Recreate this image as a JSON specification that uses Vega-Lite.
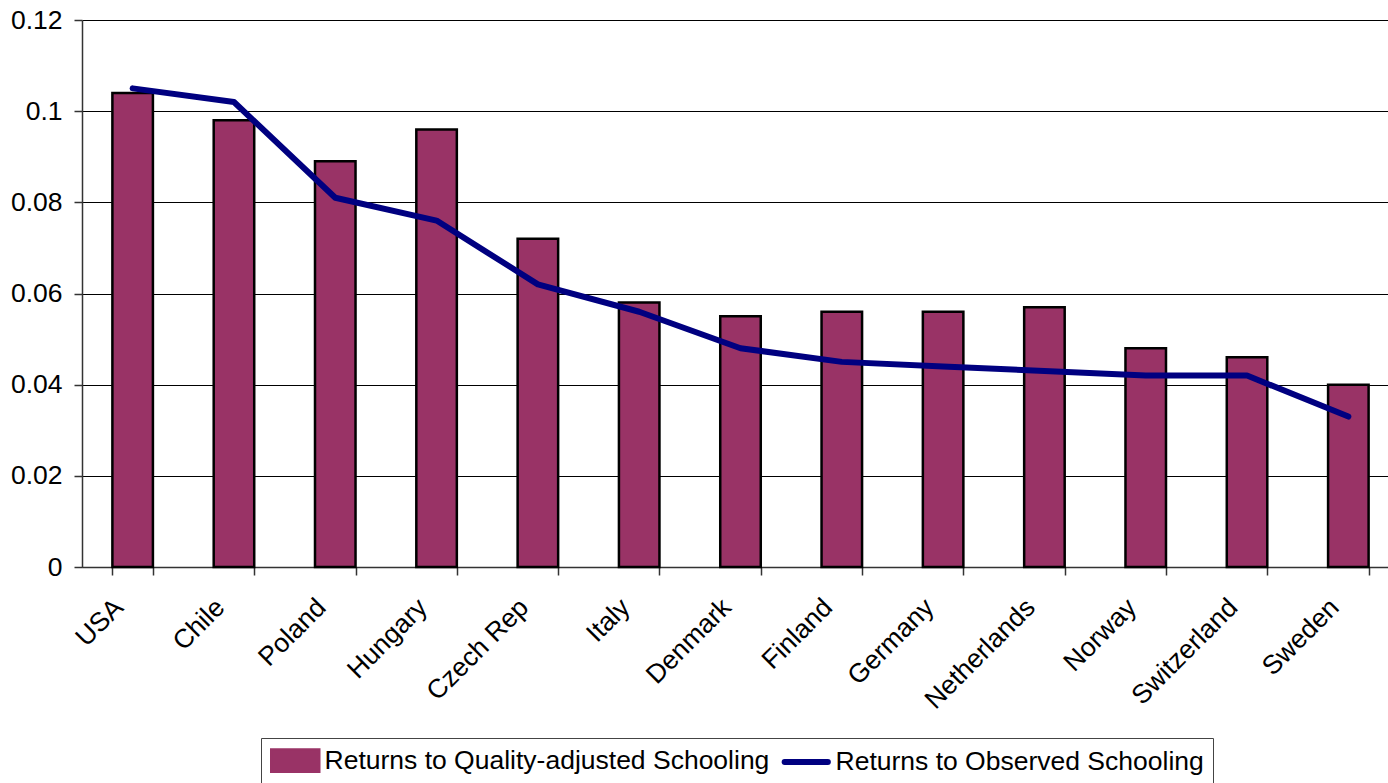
{
  "$schema": "https://vega.github.io/schema/vega-lite/v6.json",
  "autosize": {"type": "none"},
  "padding": {"left": 82, "top": 20, "right": 0, "bottom": 216},
  "width": 1317,
  "height": 547,
  "background": "white",
  "config": {
    "view": {"stroke": null},
    "font": "Liberation Sans",
    "axis": {"labelFont": "Liberation Sans", "labelFontSize": 26.5, "labelColor": "black", "domainColor": "#333", "tickColor": "#333", "tickSize": 8, "domainWidth": 1.5, "tickWidth": 1.5}
  },
  "data": {
    "values": [
      {"country": "USA", "series": "Returns to Quality-adjusted Schooling", "value": 0.104},
      {"country": "Chile", "series": "Returns to Quality-adjusted Schooling", "value": 0.098},
      {"country": "Poland", "series": "Returns to Quality-adjusted Schooling", "value": 0.089},
      {"country": "Hungary", "series": "Returns to Quality-adjusted Schooling", "value": 0.096},
      {"country": "Czech Rep", "series": "Returns to Quality-adjusted Schooling", "value": 0.072},
      {"country": "Italy", "series": "Returns to Quality-adjusted Schooling", "value": 0.058},
      {"country": "Denmark", "series": "Returns to Quality-adjusted Schooling", "value": 0.055},
      {"country": "Finland", "series": "Returns to Quality-adjusted Schooling", "value": 0.056},
      {"country": "Germany", "series": "Returns to Quality-adjusted Schooling", "value": 0.056},
      {"country": "Netherlands", "series": "Returns to Quality-adjusted Schooling", "value": 0.057},
      {"country": "Norway", "series": "Returns to Quality-adjusted Schooling", "value": 0.048},
      {"country": "Switzerland", "series": "Returns to Quality-adjusted Schooling", "value": 0.046},
      {"country": "Sweden", "series": "Returns to Quality-adjusted Schooling", "value": 0.040},
      {"country": "USA", "series": "Returns to Observed Schooling", "value": 0.105},
      {"country": "Chile", "series": "Returns to Observed Schooling", "value": 0.102},
      {"country": "Poland", "series": "Returns to Observed Schooling", "value": 0.081},
      {"country": "Hungary", "series": "Returns to Observed Schooling", "value": 0.076},
      {"country": "Czech Rep", "series": "Returns to Observed Schooling", "value": 0.062},
      {"country": "Italy", "series": "Returns to Observed Schooling", "value": 0.056},
      {"country": "Denmark", "series": "Returns to Observed Schooling", "value": 0.048},
      {"country": "Finland", "series": "Returns to Observed Schooling", "value": 0.045},
      {"country": "Germany", "series": "Returns to Observed Schooling", "value": 0.044},
      {"country": "Netherlands", "series": "Returns to Observed Schooling", "value": 0.043},
      {"country": "Norway", "series": "Returns to Observed Schooling", "value": 0.042},
      {"country": "Switzerland", "series": "Returns to Observed Schooling", "value": 0.042},
      {"country": "Sweden", "series": "Returns to Observed Schooling", "value": 0.033}
    ]
  },
  "encoding": {
    "x": {
      "field": "country", "type": "nominal", "sort": null,
      "scale": {"paddingInner": 0.6, "paddingOuter": 0.3},
      "axis": {"title": null, "labelAngle": -45, "labelAlign": "right", "labelBaseline": "middle", "labelOffset": -14, "labelPadding": 28, "tickBand": "extent", "grid": false}
    },
    "y": {
      "field": "value", "type": "quantitative",
      "scale": {"domain": [0, 0.12], "nice": false},
      "axis": {"title": null, "values": [0, 0.02, 0.04, 0.06, 0.08, 0.1, 0.12], "format": ".2~f", "labelPadding": 12, "grid": true, "gridColor": "black", "gridWidth": 1, "gridOpacity": 1}
    },
    "color": {
      "field": "series", "type": "nominal",
      "scale": {"domain": ["Returns to Quality-adjusted Schooling", "Returns to Observed Schooling"], "range": ["#993366", "#000080"]},
      "legend": {
        "title": null, "orient": "none", "legendX": 179, "legendY": 718, "direction": "horizontal",
        "labelFont": "Liberation Sans", "labelFontSize": 26.5, "labelColor": "black", "labelLimit": 800,
        "strokeColor": "#444", "fillColor": "white", "padding": 9,
        "symbolSize": 2304, "columnPadding": 2, "labelOffset": 28,
        "encode": {
          "symbols": {"update": {
            "shape": {"signal": "datum.value == 'Returns to Observed Schooling' ? 'M-0.4,0H1.4' : 'M-0.5,-0.46H1.5V0.46H-0.5Z'"},
            "fill": {"signal": "datum.value == 'Returns to Observed Schooling' ? 'transparent' : '#993366'"},
            "stroke": {"signal": "datum.value == 'Returns to Observed Schooling' ? '#000080' : 'black'"},
            "strokeWidth": {"signal": "datum.value == 'Returns to Observed Schooling' ? 6 : 2.5"},
            "strokeCap": {"value": "round"},
            "opacity": {"value": 1}
          }}
        }
      }
    }
  },
  "layer": [
    {
      "transform": [{"filter": "datum.series == 'Returns to Quality-adjusted Schooling'"}],
      "mark": {"type": "bar", "stroke": "black", "strokeWidth": 2.5}
    },
    {
      "transform": [{"filter": "datum.series == 'Returns to Observed Schooling'"}],
      "mark": {"type": "line", "strokeWidth": 6, "strokeCap": "round", "strokeJoin": "round"}
    }
  ]
}
